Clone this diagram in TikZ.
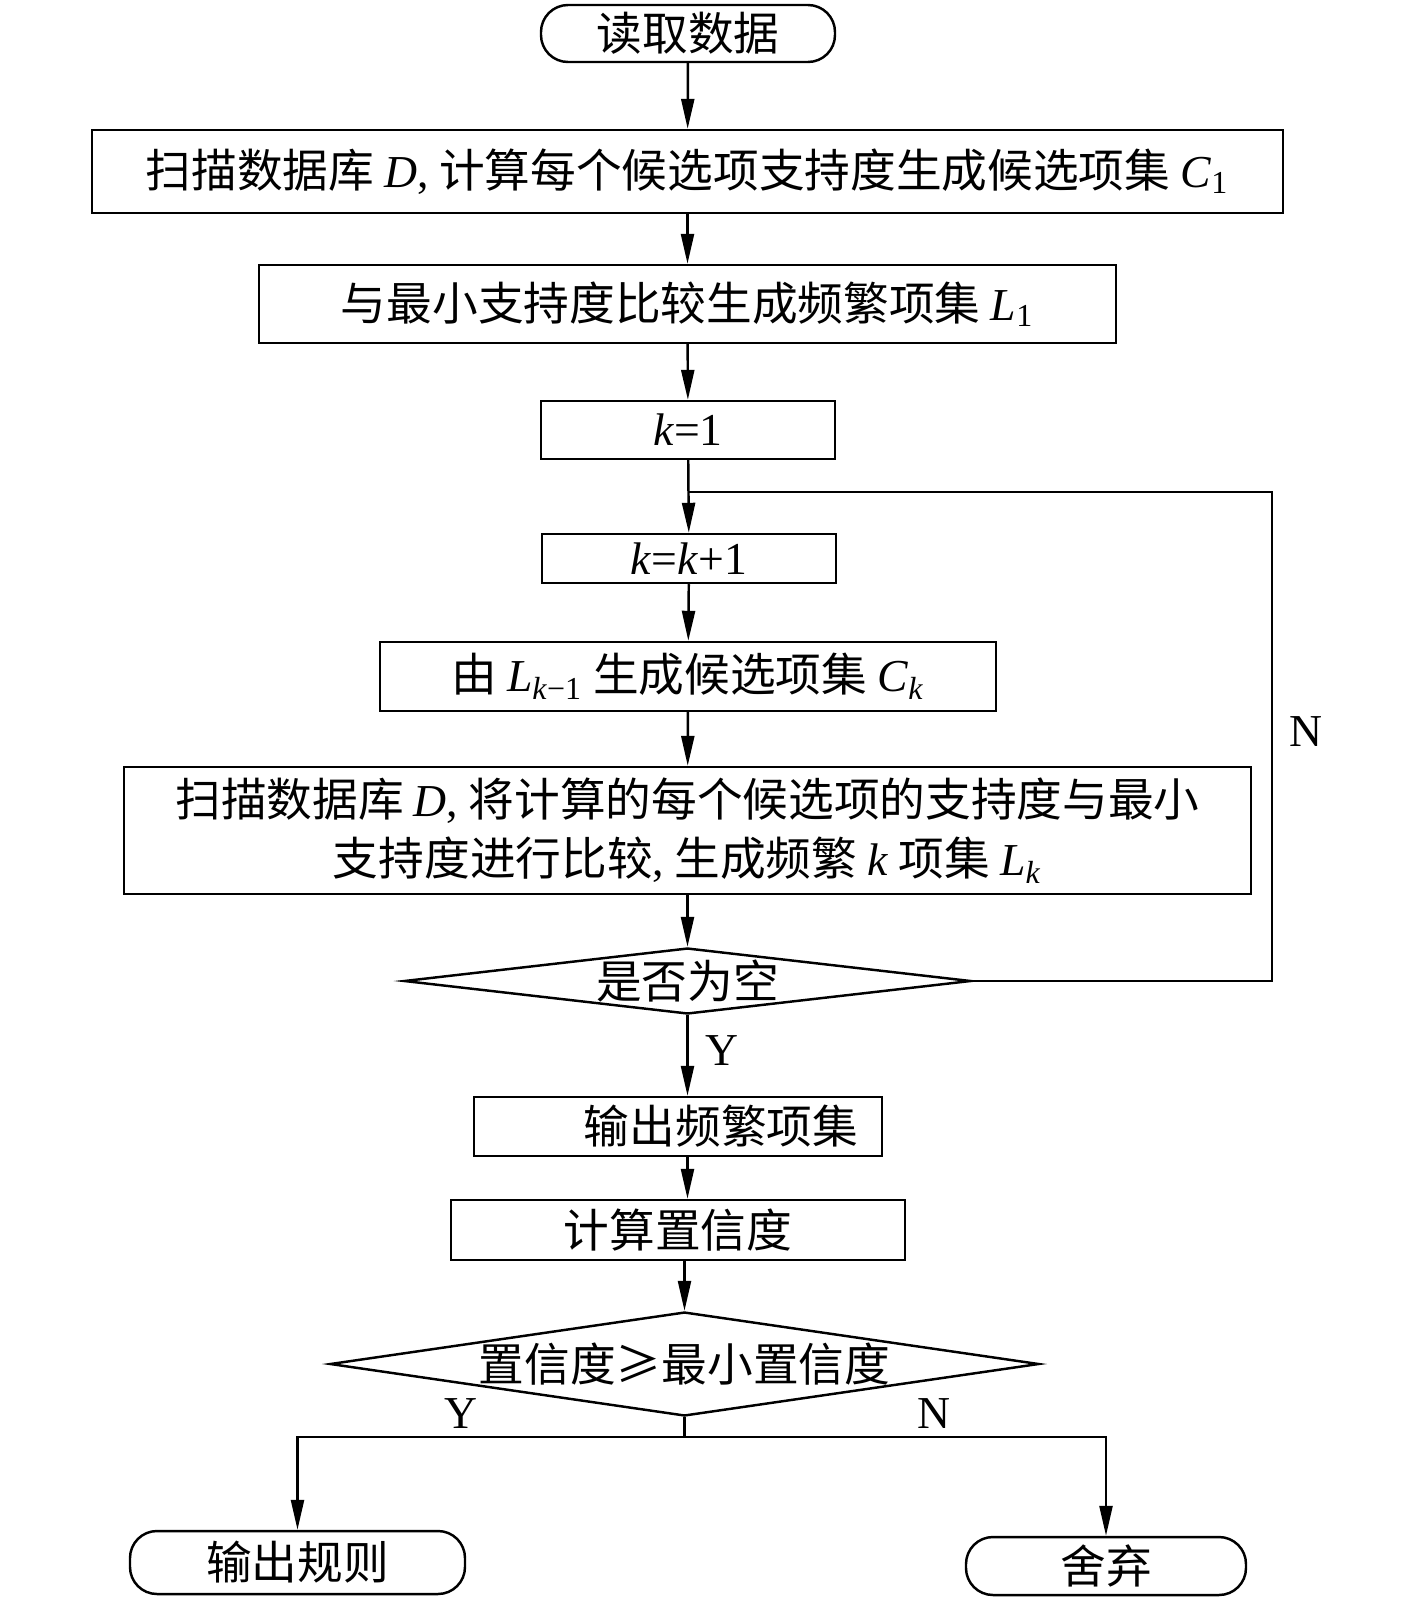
\documentclass[tikz,border=0pt]{standalone}
\usepackage{fontspec}
\setmainfont{Liberation Serif}
\newfontfamily\cjk{Noto Sans CJK SC}
\usetikzlibrary{shapes.geometric, arrows.meta}
\newcommand{\mathvar}[1]{{\rmfamily\textit{#1}}}
\newcommand{\lowidx}[1]{{\rmfamily\textsubscript{#1}}}

\begin{document}
\begin{tikzpicture}[x=0.1mm, y=-0.1mm, font=\cjk\fontsize{13}{17}\selectfont, line width=0.7pt,
  Process/.style={draw, inner sep=0pt, align=center},
  Terminal/.style={draw, inner sep=0pt, rounded corners=2.7mm},
  Decision/.style={draw, diamond, inner sep=0pt},
  Mark/.style={font=\rmfamily\fontsize{13}{15}\selectfont},
  Flow/.style={->, >={Stealth[length=3mm, width=1.3mm, inset=0pt]}}]

\useasboundingbox (0,0) rectangle (1417,1600);

\node [Terminal, minimum width=29.4mm, minimum height=5.7mm] (start) at (688, 33.5) {读取数据};
\node [Process, minimum width=119.1mm, minimum height=8.3mm] (scanone) at (687.5, 171.5)
  {扫描数据库 \mathvar{D}{\rmfamily ,} 计算每个候选项支持度生成候选项集 \mathvar{C}\lowidx{1}};
\node [Process, minimum width=85.7mm, minimum height=7.8mm] (cmpone) at (687.5, 304)
  {与最小支持度比较生成频繁项集 \mathvar{L}\lowidx{1}};
\node [Process, minimum width=29.4mm, minimum height=5.8mm] (kone) at (688, 430) {{\rmfamily\textit{k}=1}};
\node [Process, minimum width=29.4mm, minimum height=4.9mm] (kinc) at (689, 558.5) {{\rmfamily\textit{k}=\textit{k}+1}};
\node [Process, minimum width=61.6mm, minimum height=6.9mm] (gen) at (688, 676.5)
  {由 \mathvar{L}\lowidx{\textit{k}−1} 生成候选项集 \mathvar{C}\lowidx{\textit{k}}};
\node [Process, minimum width=112.7mm, minimum height=12.7mm] (scank) at (687.5, 830.5)
  {扫描数据库 \mathvar{D}{\rmfamily ,} 将计算的每个候选项的支持度与最小\\支持度进行比较{\rmfamily ,} 生成频繁 \mathvar{k} 项集 \mathvar{L}\lowidx{\textit{k}}};
\node [Decision, minimum width=56.7mm, minimum height=6.6mm, label=center:是否为空] (empty) at (687.5, 981) {};
\node [Process, minimum width=40.8mm, minimum height=5.9mm, label={[xshift=4.3mm]center:输出频繁项集}] (freq) at (678, 1126.5) {};
\node [Process, minimum width=45.4mm, minimum height=6mm] (calc) at (678, 1230) {计算置信度};
\node [Decision, minimum width=70.9mm, minimum height=10.4mm, label=center:置信度≥最小置信度] (conf) at (684.5, 1364) {};
\node [Terminal, minimum width=33.5mm, minimum height=6.3mm] (rule) at (297.5, 1562.5) {输出规则};
\node [Terminal, minimum width=28mm, minimum height=5.8mm] (drop) at (1106, 1566) {舍弃};

\coordinate (back) at (688, 492);
\coordinate (backtop) at (1272, 492);
\coordinate (fork) at (684.5, 1437);

\node [Mark] (no) at (1306, 732) {N};
\node [Mark] (yes) at (722, 1051) {Y};
\node [Mark] (yesrule) at (461, 1414) {Y};
\node [Mark] (nodrop) at (934, 1414) {N};

\draw [Flow] (start) -- (scanone);
\draw [Flow] (scanone) -- (cmpone);
\draw [Flow] (cmpone) -- (kone);
\draw [Flow] (kone) -- (kinc);
\draw [Flow] (kinc) -- (gen);
\draw [Flow] (gen) -- (scank);
\draw [Flow] (scank) -- (empty);
\draw (empty.east) -| (backtop) -- (back);
\draw [Flow] (empty.south) -- (empty.south |- freq.north);
\draw [Flow] (empty.south |- freq.south) -- (empty.south |- calc.north);
\draw [Flow] (calc.south -| conf.north) -- (conf.north);
\draw (conf.south) -- (fork);
\draw [Flow] (fork) -| (rule);
\draw [Flow] (fork) -| (drop);
\end{tikzpicture}
\end{document}
